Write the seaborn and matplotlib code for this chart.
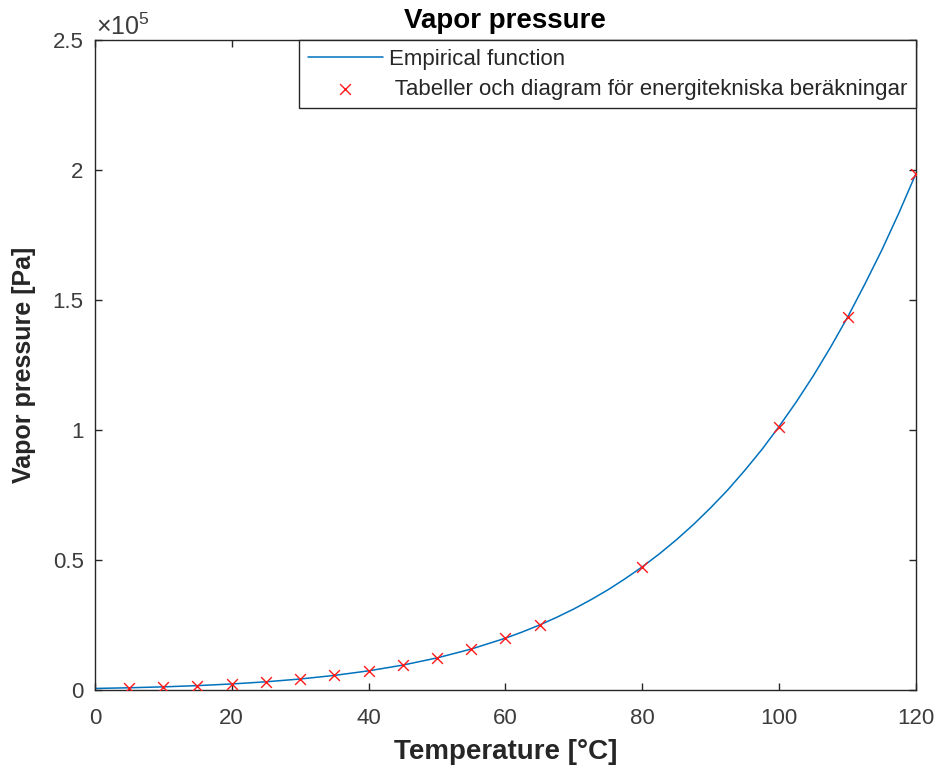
import numpy as np
import pandas as pd
import matplotlib
matplotlib.use("Agg")
import matplotlib.pyplot as plt
import seaborn as sns
from matplotlib.ticker import FuncFormatter

# empirical function, values
curve_temp = [0, 5, 10, 15, 20, 25, 30, 35, 40, 45, 50, 55, 60, 62.5,
              65, 67.5, 70, 72.5, 75, 77.5, 80, 82.5, 85, 87.5, 90, 92.5,
              95, 97.5, 100, 102.5, 105, 107.5, 110, 112.5, 115, 117.5, 120]
curve_pa = [611, 872, 1228, 1705, 2339, 3169, 4246, 5628, 7384, 9593,
            12350, 15760, 19940, 22370, 25030, 27980, 31190, 34750, 38580,
            42830, 47390, 52390, 57830, 63720, 70140, 77000, 84550, 92590,
            101420, 110800, 120900, 131800, 143400, 156000, 169200, 183500, 198700]

# table values (red crosses)
table_temp = [5, 10, 15, 20, 25, 30, 35, 40, 45, 50, 55, 60, 65, 80, 100, 110, 120]
table_pa = [872, 1228, 1705, 2339, 3169, 4246, 5628, 7384, 9593, 12350,
            15760, 19940, 25030, 47390, 101325, 143300, 198500]

x_ticks = [0, 20, 40, 60, 80, 100, 120]
y_ticks = [0, 0.5e5, 1e5, 1.5e5, 2e5, 2.5e5]

def main():
    sns.set_style("ticks")
    plt.rcParams["font.family"] = ["Liberation Sans", "DejaVu Sans"]
    plt.rcParams["mathtext.fontset"] = "custom"
    plt.rcParams["mathtext.rm"] = "Liberation Sans"
    plt.rcParams["mathtext.it"] = "Liberation Sans:italic"
    plt.rcParams["mathtext.bf"] = "Liberation Sans:bold"

    dark = "#262626"
    grey = "#3c3c3c"
    curve = pd.DataFrame({"T": curve_temp, "p": curve_pa})
    table = pd.DataFrame({"T": table_temp, "p": table_pa})

    fig = plt.figure(figsize=(9.39, 7.71), dpi=100)
    ax = fig.add_axes([0.101, 0.105, 0.8745, 0.843])

    sns.lineplot(data=curve, x="T", y="p", ax=ax, color="#0072BD",
                 linewidth=1.1, label="Empirical function")
    sns.scatterplot(data=table, x="T", y="p", ax=ax, marker="x", color="#FF1a1a",
                    s=60, linewidth=1.0, zorder=3,
                    label=" Tabeller och diagram för energitekniska beräkningar")

    ax.set_xlim(0, 120)
    ax.set_ylim(0, 2.5e5)
    ax.set_xticks(x_ticks)
    ax.set_yticks(y_ticks)
    ax.yaxis.set_major_formatter(FuncFormatter(lambda v, pos: "%g" % (v / 1e5)))

    ax.tick_params(direction="in", top=True, right=True, length=5, width=1,
                   labelsize=16, color=dark, labelcolor=grey)
    ax.tick_params(axis="x", pad=13)
    ax.tick_params(axis="y", pad=8)
    for s in ax.spines.values():
        s.set_color(dark)
        s.set_linewidth(1.0)

    ax.set_title("Vapor pressure", fontsize=20, fontweight="bold", color="black", pad=9)
    ax.set_xlabel("Temperature [°C]", fontsize=20, fontweight="bold", color=dark, labelpad=7)
    ax.set_ylabel("Vapor pressure [Pa]", fontsize=18, fontweight="bold", color=dark, labelpad=12)
    ax.text(0.002, 1.008, r"$\times10^{5}$", transform=ax.transAxes, fontsize=18,
            color=grey, ha="left", va="baseline")

    leg = ax.legend(loc="upper right", borderaxespad=0, fontsize=16, fancybox=False,
                    edgecolor=dark, framealpha=1, handlelength=3.4, handletextpad=0.27,
                    borderpad=0.38, labelspacing=0.42)
    leg.get_frame().set_linewidth(1.0)
    for t in leg.get_texts():
        t.set_color(dark)

    fig.savefig("out.png", dpi=100)


if __name__ == "__main__":
    main()
